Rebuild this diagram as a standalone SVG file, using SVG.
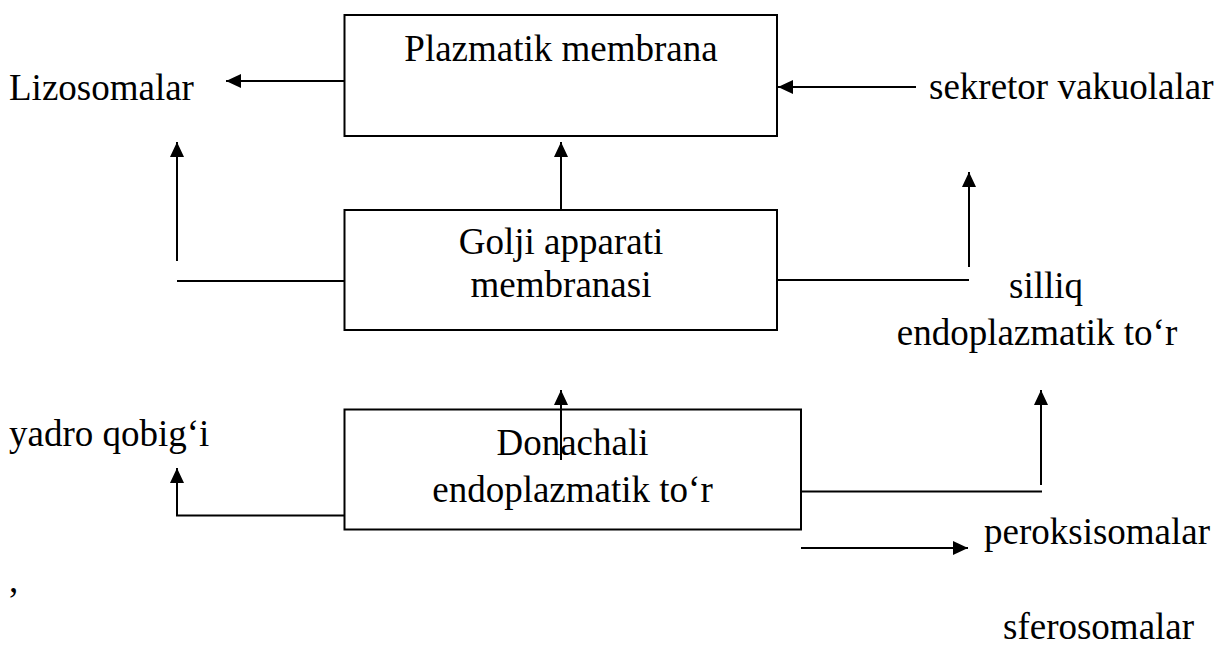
<svg xmlns="http://www.w3.org/2000/svg" width="1217" height="646" viewBox="0 0 1217 646">
<style>
text{font-family:"Liberation Serif","Times New Roman",serif;font-size:37px;fill:#000}
.c{text-anchor:middle}
.box{fill:#fff;stroke:#000;stroke-width:2}
.ln{fill:none;stroke:#000;stroke-width:2}
.ar{fill:none;stroke:#000;stroke-width:2;marker-end:url(#ah)}
</style>
<defs>
<marker id="ah" viewBox="0 0 15 14" markerWidth="15" markerHeight="14" refX="15" refY="7" orient="auto" markerUnits="userSpaceOnUse">
<path d="M0,0 L15,7 L0,14 z" fill="#000"/>
</marker>
</defs>
<rect width="1217" height="646" fill="#fff"/>
<g id="plazmatik">
<rect class="box" x="344.5" y="15" width="432.5" height="121"/>
<text class="c" x="561" y="61">Plazmatik membrana</text>
</g>
<g id="golji">
<rect class="box" x="344.5" y="210" width="432.5" height="120"/>
<text class="c" x="561" y="254">Golji apparati</text>
<text class="c" x="561" y="297">membranasi</text>
</g>
<g id="donachali">
<rect class="box" x="344.5" y="409.5" width="456.5" height="120"/>
<text class="c" x="572.5" y="455">Donachali</text>
<text class="c" x="572.5" y="502">endoplazmatik to‘r</text>
</g>
<g id="lizosomalar"><text x="9" y="100">Lizosomalar</text></g>
<g id="sekretor"><text x="929" y="99">sekretor vakuolalar</text></g>
<g id="silliq">
<text class="c" x="1046" y="298">silliq</text>
<text class="c" x="1037" y="345">endoplazmatik to‘r</text>
</g>
<g id="yadro"><text x="9" y="446">yadro qobig‘i</text></g>
<g id="comma"><text x="9" y="592">,</text></g>
<g id="peroksisomalar"><text x="984" y="544">peroksisomalar</text></g>
<g id="sferosomalar"><text x="1003" y="639">sferosomalar</text></g>
<g id="connectors">
<line class="ar" x1="344.5" y1="81" x2="226" y2="81"/>
<line class="ar" x1="916" y1="87" x2="778" y2="87"/>
<line class="ar" x1="561" y1="211" x2="561" y2="142"/>
<line class="ln" x1="177" y1="281" x2="344.5" y2="281"/>
<line class="ar" x1="177" y1="261" x2="177" y2="142"/>
<line class="ln" x1="777" y1="280" x2="969" y2="280"/>
<line class="ar" x1="969" y1="267" x2="969" y2="172"/>
<line class="ar" x1="561" y1="460" x2="561" y2="390"/>
<polyline class="ar" points="344.5,515.5 177,515.5 177,468"/>
<line class="ln" x1="801" y1="491.5" x2="1042" y2="491.5"/>
<line class="ar" x1="1041" y1="485" x2="1041" y2="390"/>
<line class="ar" x1="801" y1="548" x2="968" y2="548"/>
</g>
</svg>
